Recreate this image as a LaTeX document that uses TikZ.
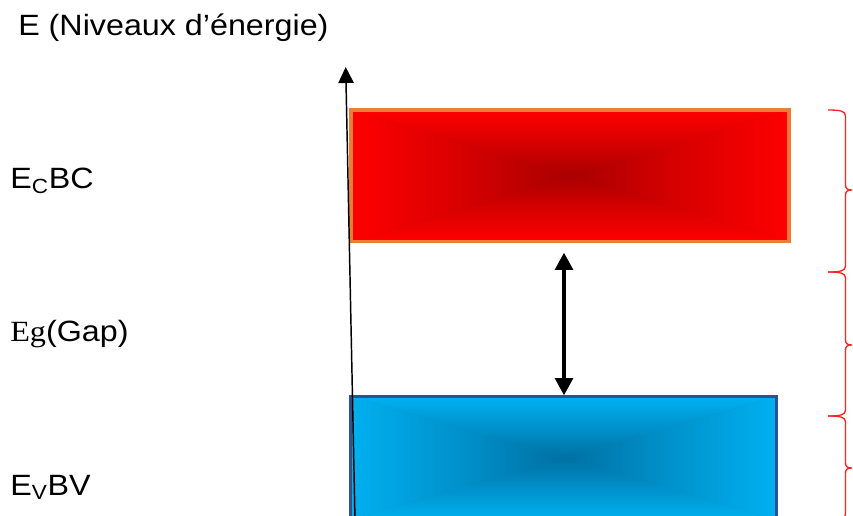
\documentclass[tikz,border=0pt]{standalone}
\usepackage{fontspec}
\setmainfont[FakeStretch=1.1]{Liberation Sans}
\newfontfamily\egfont[FakeStretch=1.1]{Liberation Serif}
\usetikzlibrary{arrows.meta}
\definecolor{redE}{HTML}{FF0000}
\definecolor{redM}{HTML}{D80000}
\definecolor{redC}{HTML}{A80000}
\definecolor{bluE}{HTML}{00B0F0}
\definecolor{bluM}{HTML}{0092CC}
\definecolor{bluC}{HTML}{0070A2}
\definecolor{orangeB}{HTML}{ED7D31}
\definecolor{blueB}{HTML}{2F528F}
\definecolor{braceR}{HTML}{FF2222}
\newcommand\boxshade[7]{%
  \fill[#6] (#1,#2) rectangle (#3,#4);
  \shade[top color=#5, bottom color=#7, middle color=#6] (#1,#2) -- (#3,#2) -- ({(#1+#3)/2},{(#2+#4)/2}) -- cycle;
  \shade[top color=#7, bottom color=#5, middle color=#6] (#1,#4) -- (#3,#4) -- ({(#1+#3)/2},{(#2+#4)/2}) -- cycle;
  \shade[left color=#5, right color=#7, middle color=#6] (#1,#2) -- (#1,#4) -- ({(#1+#3)/2},{(#2+#4)/2}) -- cycle;
  \shade[left color=#7, right color=#5, middle color=#6] (#3,#2) -- (#3,#4) -- ({(#1+#3)/2},{(#2+#4)/2}) -- cycle;
}
\newcommand\redbrace[3]{%
  \draw[bracestyle] (828,#1) .. controls (840,#1) and (845.5,{#1+1}) .. (845.5,{#1+6})
    -- (845.5,{#2-5}) .. controls (845.5,{#2-1}) and (848,#2) .. (852,#2)
    .. controls (848,#2) and (845.5,{#2+1}) .. (845.5,{#2+5})
    -- (845.5,{#3-6}) .. controls (845.5,{#3-1}) and (840,#3) .. (828,#3);
}
\begin{document}
\begin{tikzpicture}[x=0.75pt,y=-0.75pt,
  lbl/.style={anchor=base west, inner sep=0pt, font=\fontsize{22}{26}\selectfont},
  cbox/.style={draw=orangeB, line width=2.6pt, minimum width=328.5pt, minimum height=98.6pt, inner sep=0pt},
  vbox/.style={draw=blueB, line width=2pt, minimum width=319.5pt, minimum height=92.25pt, inner sep=0pt},
  gaparrow/.style={line width=3.6pt, {Triangle[width=13pt,length=13pt]}-{Triangle[width=13pt,length=13pt]}},
  axisline/.style={line width=1.1pt, -{Triangle[width=11.5pt,length=12pt]}},
  bracestyle/.style={draw=braceR, line width=1pt}]
\useasboundingbox (0,0) rectangle (853,516);
% title and labels
\node[lbl] (title) at (18,36) {E (Niveaux d’énergie)};
\node[lbl] (ec) at (10,189) {E\textsubscript{C}BC};
\node[lbl] (eg) at (10,342) {{\egfont Eg}(Gap)};
\node[lbl] (ev) at (10,495) {E\textsubscript{V}BV};
% conduction band
\boxshade{351}{110}{789}{241.5}{redE}{redM}{redC}
\node[cbox] (bc) at (570,175.75) {};
% valence band
\boxshade{350.5}{396.5}{776.5}{519.5}{bluE}{bluM}{bluC}
\node[vbox] (bv) at (563.5,458) {};
% gap arrow
\coordinate (gtop) at (564,252.5);
\coordinate (gbot) at (564,395.5);
\draw[gaparrow] (gtop) -- (gbot);
% energy axis
\coordinate (a0) at (355,520);
\coordinate (a1) at (345.7,67);
\draw[axisline] (a0) -- (a1);
% braces
\redbrace{110}{190}{272}
\redbrace{272}{345}{416}
\redbrace{416}{468}{520}
\end{tikzpicture}
\end{document}
